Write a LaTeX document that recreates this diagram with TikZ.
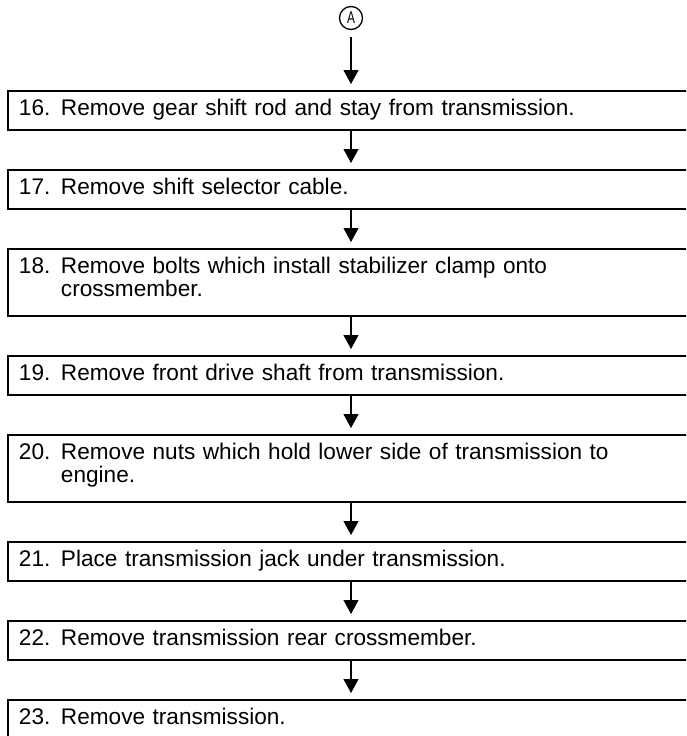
\documentclass[tikz,border=0pt]{standalone}
\usepackage{fontspec}
\setmainfont{Liberation Sans}
\usepackage{tikz}
\usetikzlibrary{arrows.meta, positioning}
\newcommand{\stepno}[1]{\makebox[42pt][l]{#1}}
\newcommand{\stepindent}{\hspace*{42pt}}
\tikzstyle{stepbox} = [rectangle, draw, line width=1.4pt, outer sep=0pt, text width=680pt, inner xsep=11pt, inner ysep=8pt, text height=16.4pt, text depth=6.6pt, align=left, font=\fontsize{22.6}{23.4}\selectfont]
\tikzstyle{twoline} = [text depth=34.6pt]
\tikzstyle{marker} = [circle, draw, line width=1.3pt, minimum size=23pt, inner sep=0pt, font=\fontsize{17}{17}\selectfont]
\tikzstyle{arrow} = [line width=1.1pt, -{Triangle[width=15pt, length=14pt]}, shorten >=7pt]

\begin{document}
\begin{tikzpicture}[node distance=40pt]
            \useasboundingbox (0,0) rectangle (686pt,-736pt);
            \clip (0,0) rectangle (686pt,-736pt);

            % Nodes
            \node (circA) [marker] at (351pt,-18pt) {\scalebox{0.7}[1]{A}};
            \node (s16) [stepbox, anchor=north west] at (8pt,-91pt) {\stepno{16.}Remove gear shift rod and stay from transmission.};
            \node (s17) [stepbox, below=of s16] {\stepno{17.}Remove shift selector cable.};
            \node (s18) [stepbox, twoline, below=of s17] {\stepno{18.}Remove bolts which install stabilizer clamp onto\\\stepindent crossmember.};
            \node (s19) [stepbox, below=of s18] {\stepno{19.}Remove front drive shaft from transmission.};
            \node (s20) [stepbox, twoline, below=of s19] {\stepno{20.}Remove nuts which hold lower side of transmission to\\\stepindent engine.};
            \node (s21) [stepbox, below=of s20] {\stepno{21.}Place transmission jack under transmission.};
            \node (s22) [stepbox, below=of s21] {\stepno{22.}Remove transmission rear crossmember.};
            \node (s23) [stepbox, below=of s22] {\stepno{23.}Remove transmission.};

            % Arrows
            \draw [arrow, shorten <=7pt] (circA) -- (s16.north -| circA);
            \draw [arrow] (s16.south -| circA) -- (s17.north -| circA);
            \draw [arrow] (s17.south -| circA) -- (s18.north -| circA);
            \draw [arrow] (s18.south -| circA) -- (s19.north -| circA);
            \draw [arrow] (s19.south -| circA) -- (s20.north -| circA);
            \draw [arrow] (s20.south -| circA) -- (s21.north -| circA);
            \draw [arrow] (s21.south -| circA) -- (s22.north -| circA);
            \draw [arrow] (s22.south -| circA) -- (s23.north -| circA);

\end{tikzpicture}
\end{document}
